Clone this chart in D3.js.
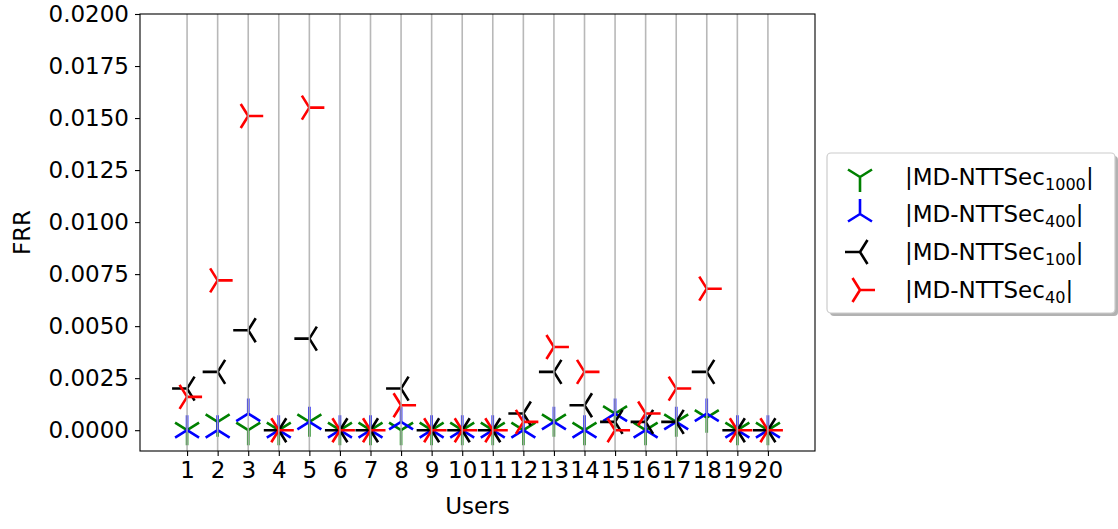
<!DOCTYPE html>
<html>
<head>
<meta charset="utf-8">
<script src="https://cdn.jsdelivr.net/npm/d3@7"></script>
<style>
  html, body { margin: 0; padding: 0; background: #fff; }
  svg { display: block; }
  text { font-family: "DejaVu Sans", sans-serif; fill: #000; }
</style>
</head>
<body>
<svg id="chart" width="1118" height="529"></svg>
<script>
// Users on the x axis
const users = [1, 2, 3, 4, 5, 6, 7, 8, 9, 10, 11, 12, 13, 14, 15, 16, 17, 18, 19, 20];

// False rejection rate per user for each window length
const frr1000 = [0, 0.0004, 0, 0, 0.0004, 0, 0, 0, 0, 0, 0, 0, 0.0004, 0, 0.0008, 0, 0.0004, 0.0006, 0, 0];
const frr400  = [0, 0, 0.0008, 0, 0.0004, 0, 0, 0.0004, 0, 0, 0, 0, 0.0004, 0, 0.0008, 0, 0.0004, 0.0008, 0, 0];
const frr100  = [0.002, 0.0028, 0.0048, 0, 0.0044, 0, 0, 0.002, 0, 0, 0, 0.0008, 0.0028, 0.0012, 0.0004, 0.0004, 0.0004, 0.0028, 0, 0];
const frr40   = [0.0016, 0.0072, 0.0151, 0, 0.0155, 0, 0, 0.0012, 0, 0, 0, 0.0004, 0.004, 0.0028, 0, 0.0008, 0.002, 0.0068, 0, 0];

// Legend label parts: base text and subscript
const labelBase = "|MD-NTTSec";
const labelSubs = ["1000", "400", "100", "40"];

const yTicks = [0, 0.0025, 0.005, 0.0075, 0.01, 0.0125, 0.015, 0.0175, 0.02];

const series = [
  { values: frr1000, sub: labelSubs[0], color: "green", marker: "down" },
  { values: frr400,  sub: labelSubs[1], color: "blue",  marker: "up" },
  { values: frr100,  sub: labelSubs[2], color: "black", marker: "left" },
  { values: frr40,   sub: labelSubs[3], color: "red",   marker: "right" }
];

const svg = d3.select("#chart");
const plot = { left: 140, right: 815, top: 14, bottom: 451 };
const fontSize = 23;

const x = d3.scaleLinear().domain([-0.54, 21.54]).range([plot.left, plot.right]);
const y = d3.scaleLinear().domain([-0.001, 0.02]).range([plot.bottom, plot.top]);

// Three-armed "tri" marker path, centred on the junction
function triPath(kind, r) {
  const a = 0.8 * r, b = 0.5 * r;
  let stem, arm1, arm2;
  if (kind === "down")  { stem = [0, r];  arm1 = [a, -b];  arm2 = [-a, -b]; }
  if (kind === "up")    { stem = [0, -r]; arm1 = [a, b];   arm2 = [-a, b]; }
  if (kind === "left")  { stem = [-r, 0]; arm1 = [b, -a];  arm2 = [b, a]; }
  if (kind === "right") { stem = [r, 0];  arm1 = [-b, -a]; arm2 = [-b, a]; }
  return [stem, arm1, arm2].map(p => `M0,0L${p[0]},${p[1]}`).join("");
}
const markerR = 15;
const markerW = 2.6;

// Markers
const marks = svg.append("g");
series.forEach(s => {
  marks.append("g")
    .selectAll("path")
    .data(users.map((u, i) => ({ u, v: s.values[i] })))
    .join("path")
    .attr("transform", d => `translate(${x(d.u)},${y(d.v)})`)
    .attr("d", triPath(s.marker, markerR))
    .attr("fill", "none")
    .attr("stroke", s.color)
    .attr("stroke-width", markerW)
    .attr("stroke-linecap", "butt");
});

// Vertical grid lines at each user
svg.append("g")
  .selectAll("line")
  .data(users)
  .join("line")
  .attr("x1", d => x(d)).attr("x2", d => x(d))
  .attr("y1", plot.top).attr("y2", plot.bottom)
  .attr("stroke", "#b0b0b0")
  .attr("stroke-opacity", 0.9)
  .attr("stroke-width", 1.6);

// Axes
const xAxis = d3.axisBottom(x).tickValues(users).tickFormat(d3.format("d")).tickSize(5).tickPadding(6);
const yAxis = d3.axisLeft(y).tickValues(yTicks).tickFormat(d3.format(".4f")).tickSize(5).tickPadding(6);

const gx = svg.append("g").attr("transform", `translate(0,${plot.bottom})`).call(xAxis);
const gy = svg.append("g").attr("transform", `translate(${plot.left},0)`).call(yAxis);
[gx, gy].forEach(g => {
  g.select(".domain").remove();
  g.selectAll(".tick line").attr("stroke", "#000").attr("stroke-width", 1.1);
  g.selectAll(".tick text").attr("font-size", fontSize).attr("font-family", "DejaVu Sans").attr("fill", "#000");
});

// Frame
svg.append("rect")
  .attr("x", plot.left).attr("y", plot.top)
  .attr("width", plot.right - plot.left).attr("height", plot.bottom - plot.top)
  .attr("fill", "none").attr("stroke", "#000").attr("stroke-width", 1.1);

// Axis titles
svg.append("text")
  .attr("x", (plot.left + plot.right) / 2).attr("y", 514)
  .attr("text-anchor", "middle").attr("font-size", fontSize)
  .text("Users");
svg.append("text")
  .attr("transform", `translate(30,${(plot.top + plot.bottom) / 2}) rotate(-90)`)
  .attr("text-anchor", "middle").attr("font-size", fontSize)
  .text("FRR");

// Legend
const leg = { x: 827, y: 153, w: 288, h: 160 };
const lg = svg.append("g");
lg.append("rect")
  .attr("x", leg.x + 3).attr("y", leg.y + 3)
  .attr("width", leg.w).attr("height", leg.h)
  .attr("rx", 4).attr("fill", "#000").attr("fill-opacity", 0.3);
lg.append("rect")
  .attr("x", leg.x).attr("y", leg.y)
  .attr("width", leg.w).attr("height", leg.h)
  .attr("rx", 4).attr("fill", "#fff").attr("stroke", "#cccccc").attr("stroke-width", 1.2);

const rowY = [177, 214, 252, 290];
series.forEach((s, i) => {
  lg.append("path")
    .attr("transform", `translate(860,${rowY[i]})`)
    .attr("d", triPath(s.marker, markerR))
    .attr("fill", "none").attr("stroke", s.color).attr("stroke-width", markerW);
  const t = lg.append("text")
    .attr("x", 905).attr("y", rowY[i] + 8)
    .attr("font-size", fontSize);
  t.append("tspan").text(labelBase);
  t.append("tspan").attr("font-size", fontSize * 0.7).attr("dy", 5).text(s.sub);
  t.append("tspan").attr("dy", -5).text("|");
});
</script>
</body>
</html>
